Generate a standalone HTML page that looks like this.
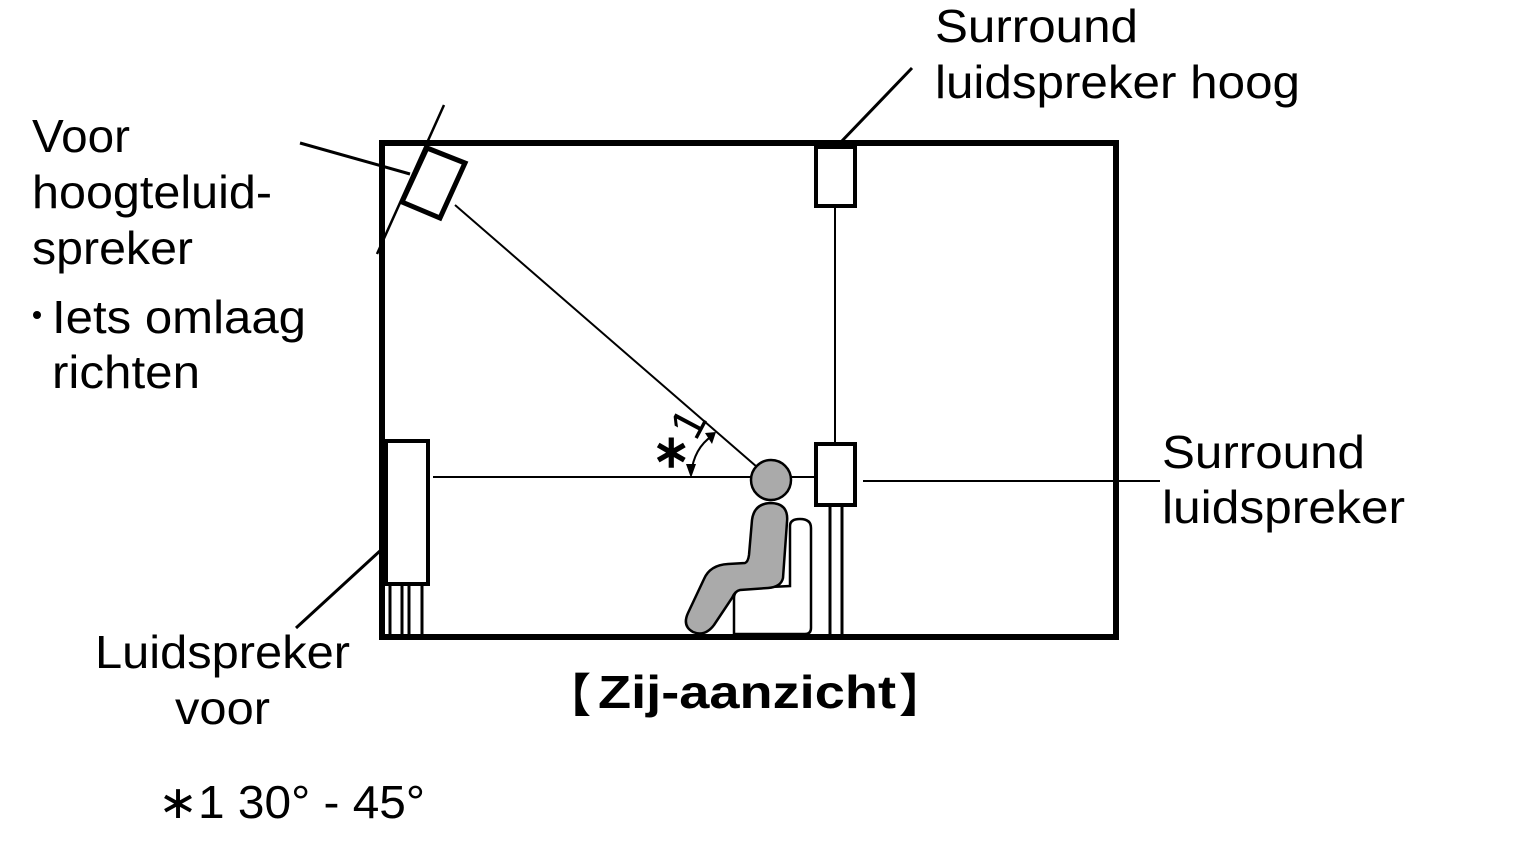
<!DOCTYPE html>
<html><head><meta charset="utf-8"><style>
html,body{margin:0;padding:0;background:#fff;}
svg{display:block;}
text{font-family:"Liberation Sans",Arial,sans-serif;font-size:46px;fill:#000;}
</style></head><body>
<svg width="1525" height="848" viewBox="0 0 1525 848" xmlns="http://www.w3.org/2000/svg">
<g stroke="#000" fill="none">
<rect x="382" y="143" width="734" height="494" stroke-width="6"/>
<rect x="386" y="441" width="42" height="143" stroke-width="4" fill="#fff"/>
<g stroke-width="3"><line x1="390" y1="584" x2="390" y2="635"/><line x1="402" y1="584" x2="402" y2="635"/><line x1="409" y1="584" x2="409" y2="635"/><line x1="422" y1="584" x2="422" y2="635"/></g>
<line x1="444" y1="105" x2="377" y2="254" stroke-width="2.5"/>
<polygon points="427,148 465,163 440,218 402,202" stroke-width="5" fill="#fff"/>
<line x1="300" y1="143" x2="410" y2="174" stroke-width="3"/>
<line x1="455" y1="205" x2="757" y2="467" stroke-width="2"/>
<line x1="433" y1="477" x2="815" y2="477" stroke-width="2"/>
<line x1="835" y1="206" x2="835" y2="443" stroke-width="2"/>
<line x1="863" y1="481" x2="1160" y2="481" stroke-width="2"/>
<line x1="840" y1="143" x2="912" y2="68" stroke-width="3"/>
<line x1="296" y1="628" x2="381" y2="550" stroke-width="3"/>
<rect x="816" y="147" width="39" height="59" stroke-width="4" fill="#fff"/>
<rect x="816" y="444" width="39" height="61" stroke-width="4" fill="#fff"/>
<line x1="830" y1="505" x2="830" y2="635" stroke-width="3"/>
<line x1="842" y1="505" x2="842" y2="635" stroke-width="3"/>
<path d="M691,474 Q694,448 712,436" stroke-width="2"/>
</g>
<polygon points="686,464 696,464 691,478" fill="#000"/>
<polygon points="705,433 716,432 712,444" fill="#000"/>
<text x="652" y="467" font-size="46" font-weight="bold">∗</text>
<text x="0" y="0" transform="translate(696,442) rotate(-62)" font-size="28">1</text>
<path d="M734,634 L734,598 Q734,588 748,588 L790,586 L790,526 Q790,519 800,519 Q811,519 811,528 L811,628 Q811,634 805,634 Z" fill="#fff" stroke="#000" stroke-width="2.5"/>
<path d="M752,520 Q754,504 770,503 Q789,503 787,522 L783,578 Q781,587 768,588 L740,590 Q735,591 732,598 L714,625 Q705,637 693,632 Q682,626 688,613 L704,579 Q710,565 728,564 L745,563 Q748,562 749,555 Z" fill="#aaa" stroke="#000" stroke-width="2.5"/>
<circle cx="771" cy="480" r="20" fill="#aaa" stroke="#000" stroke-width="2.5"/>
<text x="935" y="42" textLength="203" lengthAdjust="spacingAndGlyphs">Surround</text>
<text x="935" y="98" textLength="365" lengthAdjust="spacingAndGlyphs">luidspreker hoog</text>
<text x="32" y="152" textLength="98" lengthAdjust="spacingAndGlyphs">Voor</text>
<text x="32" y="208" textLength="240" lengthAdjust="spacingAndGlyphs">hoogteluid-</text>
<text x="32" y="264" textLength="161" lengthAdjust="spacingAndGlyphs">spreker</text>
<circle cx="37" cy="315" r="4" fill="#000"/>
<text x="52" y="333" textLength="254" lengthAdjust="spacingAndGlyphs">Iets omlaag</text>
<text x="52" y="388" textLength="148" lengthAdjust="spacingAndGlyphs">richten</text>
<text x="1162" y="468" textLength="203" lengthAdjust="spacingAndGlyphs">Surround</text>
<text x="1162" y="523" textLength="243" lengthAdjust="spacingAndGlyphs">luidspreker</text>
<text x="95" y="668" textLength="255" lengthAdjust="spacingAndGlyphs">Luidspreker</text>
<text x="175" y="724" textLength="95" lengthAdjust="spacingAndGlyphs">voor</text>
<text x="545" y="712" font-size="54" font-weight="bold" style="font-family:'Noto Sans CJK JP',sans-serif">【</text>
<text x="598" y="708" font-size="50" font-weight="bold" textLength="298" lengthAdjust="spacingAndGlyphs">Zij-aanzicht</text>
<text x="899" y="712" font-size="54" font-weight="bold" style="font-family:'Noto Sans CJK JP',sans-serif">】</text>
<text x="158" y="818" textLength="267" lengthAdjust="spacingAndGlyphs">∗1 30° - 45°</text>
</svg>
</body></html>
